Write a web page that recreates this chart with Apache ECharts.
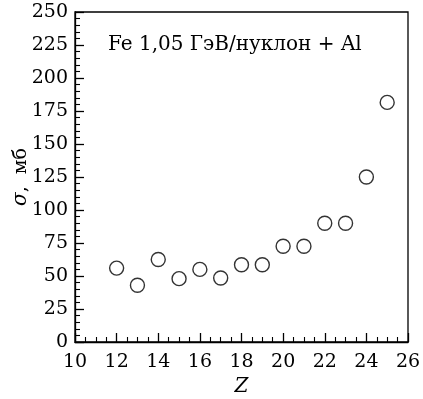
<!DOCTYPE html>
<html><head><meta charset="utf-8">
<script src="https://cdn.jsdelivr.net/npm/echarts@6/dist/echarts.min.js"></script>
<style>html,body{margin:0;padding:0;background:#fff}#c{width:423px;height:399px}</style>
</head><body><div id="c"></div>
<script>
const zValues = [12,13,14,15,16,17,18,19,20,21,22,23,24,25];
const sigmaValues = [56,43,62.5,48,55,48.5,58.5,58.5,72.5,72.5,90,90,125,181.5];
const titleText = 'Fe 1,05 ГэВ/нуклон + Al';
const FONT = 'DejaVu Serif';
const chart = echarts.init(document.getElementById('c'));
chart.setOption({
  animation:false,
  backgroundColor:'#fff',
  title:{text:titleText,left:103,top:30,textStyle:{fontFamily:FONT,fontSize:20,fontWeight:'normal',color:'#000'}},
  grid:{left:75,right:15,top:12,bottom:57,outerBoundsMode:'none',containLabel:false,show:true,borderColor:'#000',borderWidth:1.3,backgroundColor:'transparent'},
  xAxis:{type:'value',min:10,max:26,interval:2,
    name:'Z',nameLocation:'middle',nameGap:35,nameMoveOverlap:false,
    nameTextStyle:{fontFamily:FONT,fontStyle:'italic',fontSize:20,color:'#000'},
    axisLine:{lineStyle:{color:'#000',width:1.3}},
    axisTick:{inside:true,length:9,lineStyle:{color:'#000',width:1.3}},
    minorTick:{show:true,splitNumber:4,length:5,lineStyle:{color:'#000',width:1.1}},
    splitLine:{show:false},
    axisLabel:{margin:11,fontFamily:FONT,fontSize:19,color:'#000'}},
  yAxis:{type:'value',min:0,max:250,interval:25,
    name:'{i|σ},  мб',nameLocation:'middle',nameGap:44,nameMoveOverlap:false,
    nameTextStyle:{fontFamily:FONT,fontSize:19,color:'#000',rich:{i:{fontFamily:FONT,fontStyle:'italic',fontSize:20,color:'#000'}}},
    axisLine:{lineStyle:{color:'#000',width:1.3}},
    axisTick:{inside:true,length:9,lineStyle:{color:'#000',width:1.3}},
    minorTick:{show:true,splitNumber:5,length:5,lineStyle:{color:'#000',width:1.1}},
    splitLine:{show:false},
    axisLabel:{margin:7,fontFamily:FONT,fontSize:19,color:'#000'}},
  series:[{type:'scatter',data:zValues.map((z,i)=>[z,sigmaValues[i]]),
    symbol:'circle',symbolSize:14,
    itemStyle:{color:'#fff',borderColor:'#000',borderWidth:1.4}}]
});
</script></body></html>
